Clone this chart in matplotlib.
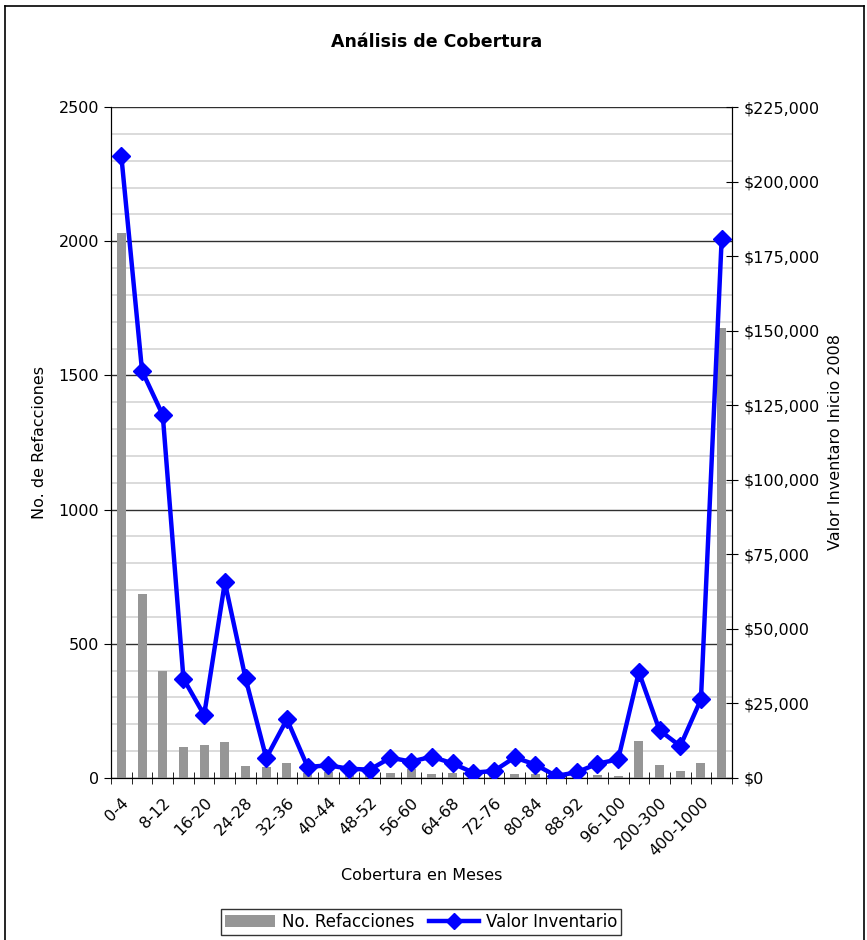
import matplotlib
matplotlib.use('Agg')
import matplotlib.pyplot as plt
from matplotlib.lines import Line2D
from matplotlib.patches import Patch
from matplotlib.ticker import MultipleLocator, FuncFormatter, FixedLocator
import numpy as np

plt.rcParams['font.family'] = ['DejaVu Sans']

# rangos de cobertura (meses)
categorias = ['0-4', '4-8', '8-12', '12-16', '16-20', '20-24', '24-28', '28-32',
              '32-36', '36-40', '40-44', '44-48', '48-52', '52-56', '56-60',
              '60-64', '64-68', '68-72', '72-76', '76-80', '80-84', '84-88',
              '88-92', '92-96', '96-100', '100-200', '200-300', '300-400',
              '400-1000', '>1000']

# numero de refacciones por rango
refacciones = [2032, 687, 399, 115, 123, 134, 45, 41, 57, 18,
               23, 12, 10, 20, 32, 16, 20, 10, 8, 15,
               15, 5, 8, 12, 8, 138, 48, 26, 57, 1675]

# valor del inventario a inicio de 2008
valor = [208500, 136500, 121700, 33300, 21100, 65600, 33400, 6700, 19700, 3700,
         4250, 3100, 2800, 6800, 5500, 7150, 4900, 1800, 2350, 6900,
         4500, 700, 1900, 4800, 6250, 35500, 16000, 10700, 26400, 180700]

x = np.arange(len(categorias))

fig = plt.figure(figsize=(8.67, 9.40), dpi=100)
ax = fig.add_axes([111/867, 1 - 778/940, (732-111)/867, (778-107)/940])
ax2 = ax.twinx()

# barras
ax.bar(x, refacciones, width=0.43, color='#969696', zorder=3)
ax.set_xlim(-0.5, len(categorias) - 0.5)
ax.set_ylim(0, 2500)

# cuadricula
ax.yaxis.set_major_locator(MultipleLocator(500))
ax.yaxis.set_minor_locator(MultipleLocator(100))
ax.grid(which='minor', axis='y', color='#d4d4d4', linewidth=1.2, zorder=0)
ax.grid(which='major', axis='y', color='#303030', linewidth=1.0, zorder=1)
ax.tick_params(axis='y', which='minor', length=0)
ax.tick_params(axis='y', which='major', direction='out', length=5, labelsize=11.5)

# eje x: etiquetas cada dos rangos, marcas en los limites
ax.set_xticks(x[::2])
ax.set_xticklabels(categorias[::2], rotation=45, ha='right',
                   rotation_mode='anchor', fontsize=11.5)
ax.xaxis.set_minor_locator(FixedLocator(np.arange(-0.5, len(categorias), 1)))
ax.tick_params(axis='x', which='major', length=0, pad=12)
ax.tick_params(axis='x', which='minor', direction='inout', length=9)

for s in ['top']:
    ax.spines[s].set_visible(False)
    ax2.spines[s].set_visible(False)

# linea de valor
ax2.plot(x, valor, color='#0000ff', linewidth=3.2, marker='D', markersize=9,
         zorder=5)
ax2.set_ylim(0, 225000)
ax2.yaxis.set_major_locator(MultipleLocator(25000))
ax2.yaxis.set_major_formatter(FuncFormatter(lambda v, p: f'${v:,.0f}'))
ax2.tick_params(axis='y', direction='inout', length=9, labelsize=11.5, pad=4)

ax.set_ylabel('No. de Refacciones', fontsize=11.5, labelpad=8)
ax2.set_ylabel('Valor Inventaro Inicio 2008', fontsize=11.5, labelpad=6)
ax.set_xlabel('Cobertura en Meses', fontsize=11.5, va='center')
ax.xaxis.set_label_coords(0.5, (778 - 876) / 671)
fig.text(437/867, 1 - 42/940, 'Análisis de Cobertura', ha='center',
         va='center', fontsize=12.5, fontweight='bold')

# leyenda
handles = [Patch(facecolor='#969696', edgecolor='none'),
           Line2D([], [], color='#0000ff', linewidth=3.2, marker='D', markersize=8)]
leg = fig.legend(handles, ['No. Refacciones', 'Valor Inventario'],
                 loc='center', bbox_to_anchor=(421/867, 1 - 922/940), ncol=2,
                 fontsize=12, frameon=True, fancybox=False, edgecolor='black',
                 handlelength=3.0, handletextpad=0.4, columnspacing=0.9,
                 borderpad=0.25)
leg.get_frame().set_linewidth(1.0)

# marco exterior
for xs, ys in [([5/867, 5/867], [0, 1 - 6/940]),
               ([5/867, 864/867], [1 - 6/940, 1 - 6/940]),
               ([864/867, 864/867], [0, 1 - 6/940])]:
    fig.add_artist(Line2D(xs, ys, color='black', linewidth=1.2,
                          transform=fig.transFigure))

fig.savefig('out.png', dpi=100)
